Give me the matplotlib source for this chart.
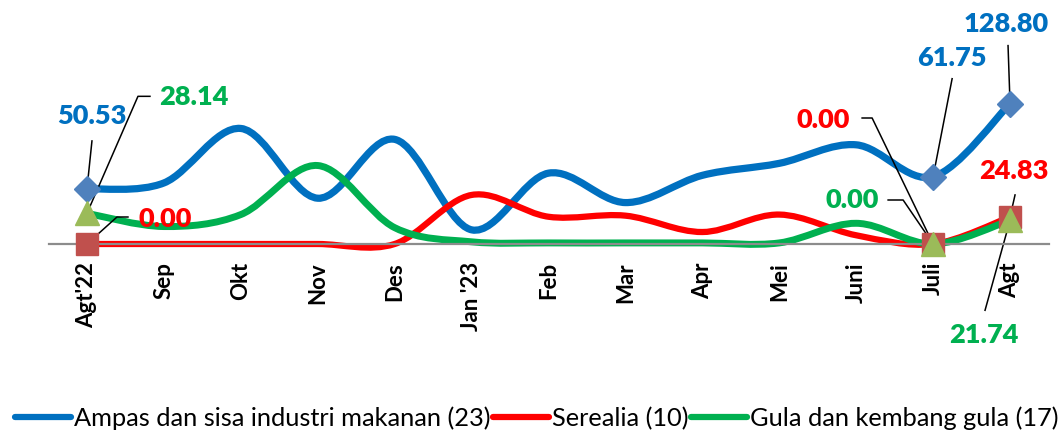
import numpy as np
from matplotlib import pyplot as plt
from matplotlib.path import Path
from matplotlib.patches import PathPatch
from matplotlib.lines import Line2D
from matplotlib.transforms import Affine2D, ScaledTranslation

# Datos (nilai impor per bulan)
bulan = ["Agt'22", "Sep", "Okt", "Nov", "Des", "Jan '23", "Feb", "Mar", "Apr",
         "Mei", "Juni", "Juli", "Agt"]
ampas = [50.53, 56, 106, 42, 96, 13, 65, 38, 63, 74, 91, 61.75, 128.80]
serealia = [0.00, 0, 0, 0, 0, 45, 25, 26, 11, 27, 8, 0.00, 24.83]
gula = [28.14, 16, 27, 72, 15, 2, 1, 1, 1, 1, 19, 0.00, 21.74]

nama_seri = ["Ampas dan sisa industri makanan (23)", "Serealia (10)",
             "Gula dan kembang gula (17)"]

AZUL = '#0070C0'
ROJO = '#FF0000'
VERDE = '#00B050'


def curva_suave(ax, ys, color, lw):
    # linea suavizada tipo Excel: bezier cubica con tangentes de Catmull-Rom
    x = np.arange(len(ys), dtype=float)
    y = np.asarray(ys, dtype=float)
    pts = np.column_stack([x, y])
    ext = np.vstack([pts[0], pts, pts[-1]])
    verts = [pts[0]]
    codes = [Path.MOVETO]
    for i in range(len(pts) - 1):
        p0, p1, p2, p3 = ext[i], ext[i + 1], ext[i + 2], ext[i + 3]
        c1 = p1 + (p2 - p0) / 6.0
        c2 = p2 - (p3 - p1) / 6.0
        verts += [c1, c2, p2]
        codes += [Path.CURVE4] * 3
    patch = PathPatch(Path(verts, codes), facecolor='none', edgecolor=color,
                      lw=lw, capstyle='round', joinstyle='round', clip_on=False)
    ax.add_patch(patch)


def etiqueta(ax, i, v, texto, color, dx, dy, guia):
    # texto del valor y linea guia (coordenadas en pixeles respecto al punto)
    ax.annotate(texto, (i, v), xytext=(dx, dy), textcoords='offset pixels',
                ha='center', va='center', color=color, fontsize=19.5,
                fontweight='heavy', family='Lato', annotation_clip=False)
    xs, ys = zip(*guia)
    tr = Affine2D() + ScaledTranslation(i, v, ax.transData)
    ax.plot(xs, ys, color='black', lw=1.1, transform=tr, clip_on=False)


fig = plt.figure(figsize=(10.59, 4.34), dpi=100)
ax = fig.add_axes([48.5 / 1059, 190 / 434, 1000 / 1059, 224 / 434])
ax.set_xlim(-0.5, len(bulan) - 0.5)
ax.set_ylim(0, 224 / 1.09)

curva_suave(ax, ampas, AZUL, 5.2)
curva_suave(ax, serealia, ROJO, 4.5)
curva_suave(ax, gula, VERDE, 5.0)

# marcadores solo en los puntos con etiqueta
idx = [0, 11, 12]
ax.plot(idx, [ampas[i] for i in idx], ls='none', marker='D', ms=13,
        color='#4F81BD', clip_on=False, zorder=5)
ax.plot(idx, [serealia[i] for i in idx], ls='none', marker='s', ms=16,
        color='#C0504D', clip_on=False, zorder=5)
ax.plot(idx, [gula[i] for i in idx], ls='none', marker='^', ms=17,
        color='#9BBB59', clip_on=False, zorder=6)

etiqueta(ax, 0, ampas[0], f"{ampas[0]:.2f}", AZUL, 5, 73, [(0, 0), (5, 48)])
etiqueta(ax, 0, gula[0], f"{gula[0]:.2f}", VERDE, 107, 116,
         [(0, 0), (51, 117), (63, 117)])
etiqueta(ax, 0, serealia[0], f"{serealia[0]:.2f}", ROJO, 78, 25,
         [(0, 0), (30, 27), (41, 27)])
etiqueta(ax, 12, ampas[12], f"{ampas[12]:.2f}", AZUL, -4, 80, [(0, 0), (-2, 58)])
etiqueta(ax, 11, ampas[11], f"{ampas[11]:.2f}", AZUL, 19, 119, [(0, 0), (19, 98)])
etiqueta(ax, 11, serealia[11], f"{serealia[11]:.2f}", ROJO, -110, 124,
         [(0, 0), (-61, 126), (-71, 126)])
etiqueta(ax, 11, gula[11], f"{gula[11]:.2f}", VERDE, -81, 44,
         [(0, 0), (-30, 44), (-45, 44)])
etiqueta(ax, 12, serealia[12], f"{serealia[12]:.2f}", ROJO, 4, 46, [(0, 0), (5, 22)])
etiqueta(ax, 12, gula[12], f"{gula[12]:.2f}", VERDE, -26, -115, [(0, 0), (-25, -90)])

# ejes
for lado in ['left', 'top', 'right']:
    ax.spines[lado].set_visible(False)
ax.spines['bottom'].set_color('#8C8C8C')
ax.spines['bottom'].set_linewidth(1.6)
ax.set_yticks([])
ax.set_xticks(range(len(bulan)))
ax.set_xticklabels(bulan, rotation=90, fontsize=16, fontweight='bold',
                   family='Lato')
ax.tick_params(axis='x', length=0, pad=13)

manijas = [Line2D([], [], color=c, lw=4.5, solid_capstyle='round')
           for c in (AZUL, ROJO, VERDE)]
fig.legend(manijas, nama_seri, loc='center', bbox_to_anchor=(0.507, 1 - 418 / 434),
           ncol=3, frameon=False, handlelength=2.2, handletextpad=0.1,
           columnspacing=0.12, borderpad=0.2, prop={'family': 'Lato', 'size': 18.3})

plt.savefig('out.png', dpi=100)
